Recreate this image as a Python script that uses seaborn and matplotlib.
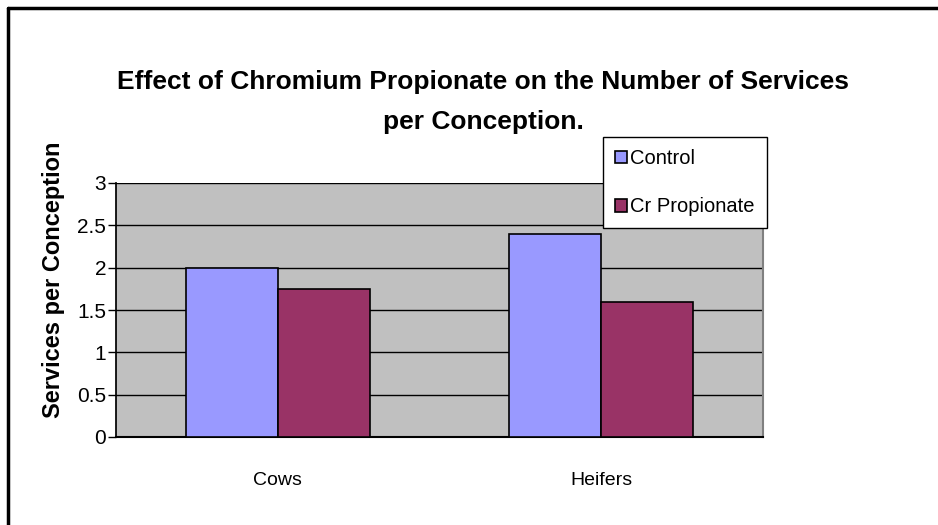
import pandas as pd
import seaborn as sns
import matplotlib.pyplot as plt
from matplotlib.lines import Line2D

groups = ['Cows', 'Heifers']
treatments = ['Control', 'Cr Propionate']
control = [2.0, 2.4]
cr_prop = [1.75, 1.6]
yticks = [0, 0.5, 1, 1.5, 2, 2.5, 3]
colors = ['#9999FF', '#993366']

df = pd.DataFrame({
    'group': groups * 2,
    'treatment': [treatments[0]] * 2 + [treatments[1]] * 2,
    'value': control + cr_prop,
})

sns.set_theme(style='white')
plt.rcParams['font.family'] = ['Liberation Sans', 'DejaVu Sans']
plt.rcParams['text.color'] = 'black'
plt.rcParams['axes.labelcolor'] = 'black'
plt.rcParams['xtick.color'] = 'black'
plt.rcParams['ytick.color'] = 'black'

fig = plt.figure(figsize=(9.38, 5.25), dpi=100)
ax = fig.add_axes([116/938, 1 - 437/525, (763 - 116)/938, (437 - 183)/525])
ax.set_facecolor('#C0C0C0')

sns.barplot(data=df, x='group', y='value', hue='treatment', palette=colors,
            width=0.57, gap=0, edgecolor='black', linewidth=1.2, saturation=1,
            ax=ax, legend=True, zorder=3)

ax.set_ylim(0, 3)
ax.set_xlim(-0.5, 1.5)
ax.set_yticks(yticks)
ax.set_yticklabels(['0', '0.5', '1', '1.5', '2', '2.5', '3'], fontsize=15)
ax.set_xticks([0, 1])
ax.set_xticklabels(groups, fontsize=14)
ax.set_xticks([-0.5, 0.5, 1.5], minor=True)
ax.tick_params(axis='x', which='major', length=0, pad=25)
ax.tick_params(axis='x', which='minor', length=6, width=1, color='black', direction='out')
ax.tick_params(axis='y', length=6, width=1, color='black', direction='out', pad=1, left=True)
ax.yaxis.grid(True, color='black', linewidth=1)
ax.set_axisbelow(True)
ax.set_xlabel('')
ax.set_ylabel('Services per Conception', fontsize=17, fontweight='bold')
ax.yaxis.set_label_coords((65 - 116) / 647, (437 - 280) / 254)

ax.spines['top'].set_visible(False)
ax.spines['left'].set_color('black')
ax.spines['bottom'].set_color('black')
ax.spines['bottom'].set_linewidth(1.5)
ax.spines['right'].set_color('#808080')
ax.spines['right'].set_linewidth(1.5)

handles, labels = ax.get_legend_handles_labels()
ax.get_legend().remove()
leg = fig.legend(handles, labels, loc='upper left', bbox_to_anchor=(603/938, 1 - 137/525),
                 fontsize=14.5, frameon=True, fancybox=False, edgecolor='black',
                 facecolor='white', framealpha=1,
                 handlelength=0.6, handleheight=0.6, handletextpad=0.15,
                 labelspacing=1.45, borderpad=0.6, borderaxespad=0)
leg.get_frame().set_linewidth(1)

fig.text(483/938, 1 - 82/525, 'Effect of Chromium Propionate on the Number of Services',
         ha='center', va='center', fontsize=19, fontweight='bold')
fig.text(483/938, 1 - 122/525, 'per Conception.',
         ha='center', va='center', fontsize=19, fontweight='bold')

# outer chart frame (top and left edges visible)
fig.add_artist(Line2D([8/938, 1], [1 - 8/525, 1 - 8/525], color='black', linewidth=2.5,
                      transform=fig.transFigure))
fig.add_artist(Line2D([8/938, 8/938], [0, 1 - 8/525], color='black', linewidth=2.5,
                      transform=fig.transFigure))

fig.savefig('out.png', dpi=100)
